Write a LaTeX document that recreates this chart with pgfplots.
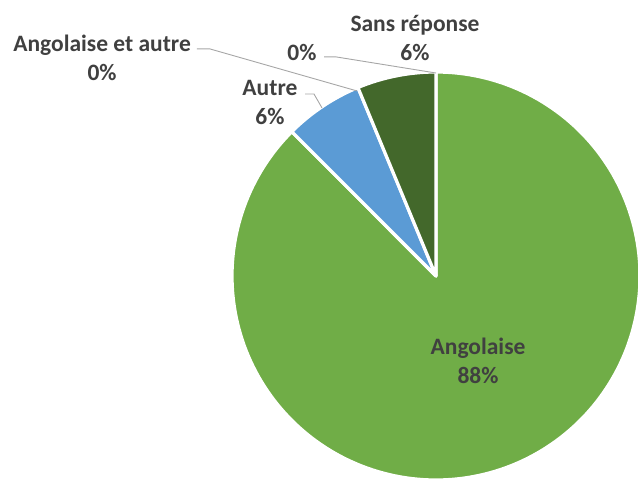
\documentclass[border=0pt]{standalone}
\usepackage{pgfplots}
\pgfplotsset{compat=1.18}
\usepackage{pgfplotstable}
\usepackage{fontspec}
\setmainfont{Carlito}
\definecolor{cAng}{HTML}{70AD47}
\definecolor{cAut}{HTML}{5B9BD5}
\definecolor{cSR}{HTML}{43682B}
\definecolor{cTxt}{HTML}{404040}
\definecolor{cLead}{HTML}{A6A6A6}
% slice, start angle, end angle (clockwise from top)
\pgfplotstableread{
name pct start end
Angolaise 87.5 90 -225
Autre 6.25 -225 -247.5
AngEtAutre 0 -247.5 -247.5
Vide 0 -247.5 -247.5
SansReponse 6.25 -247.5 -270
}\piedata
\tikzset{lab/.style={font=\fontsize{23.5}{29}\selectfont\bfseries, text=cTxt, align=center, inner sep=0pt}}
\begin{document}
\begin{tikzpicture}
\begin{axis}[
  scale only axis, width=638pt, height=483pt,
  xmin=-2.1373, xmax=0.9902, ymin=-1.0147, ymax=1.3529,
  hide axis, clip=true,
]
\addplot[fill=cAng, draw=white, line width=3.2pt, line join=round, domain=90:-225, samples=200, variable=\t]
  ({cos(t)},{sin(t)}) -- (axis cs:0,0) -- cycle;
\addplot[fill=cAut, draw=white, line width=3.2pt, line join=round, domain=-225:-247.5, samples=30, variable=\t]
  ({cos(t)},{sin(t)}) -- (axis cs:0,0) -- cycle;
\addplot[fill=cSR, draw=white, line width=3.2pt, line join=round, domain=-247.5:-270, samples=30, variable=\t]
  ({cos(t)},{sin(t)}) -- (axis cs:0,0) -- cycle;
% leader lines (pixel coords -> axis coords: x=(px-436)/204, y=(276-py)/204)
\draw[cLead, line width=0.9pt] (axis cs:-1.172,1.113) -- (axis cs:-1.108,1.113) -- (axis cs:-0.387,0.907);
\draw[cLead, line width=0.9pt] (axis cs:-0.549,1.074) -- (axis cs:-0.490,1.074) -- (axis cs:0,0.995);
\draw[cLead, line width=0.9pt] (axis cs:-0.642,0.892) -- (axis cs:-0.598,0.892) -- (axis cs:-0.559,0.824);
% labels
\node[lab] at (axis cs:-1.637,1.071) {Angolaise et autre\\0\%};
\node[lab] at (axis cs:-0.657,1.098) {0\%};
\node[lab] at (axis cs:-0.103,1.169) {Sans réponse\\6\%};
\node[lab] at (axis cs:-0.814,0.853) {Autre\\6\%};
\node[lab] at (axis cs:0.206,-0.417) {Angolaise\\88\%};
\end{axis}
\pgfresetboundingbox
\useasboundingbox (current axis.south west) rectangle (current axis.north east);
\end{tikzpicture}
\end{document}
